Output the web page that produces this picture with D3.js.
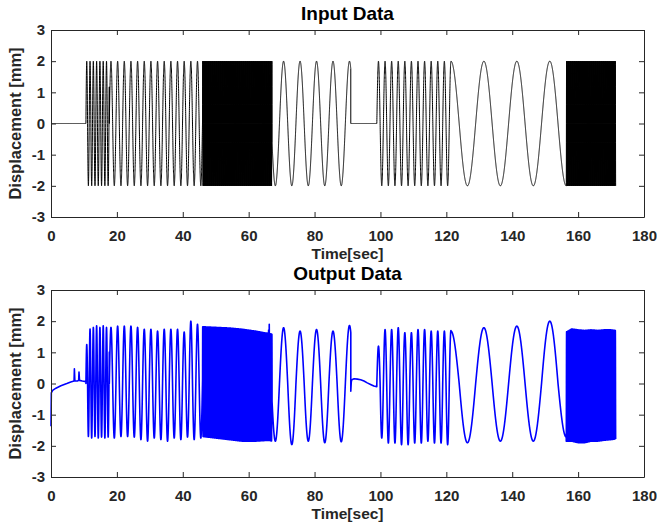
<!DOCTYPE html>
<html>
<head>
<meta charset="utf-8">
<script src="https://cdn.jsdelivr.net/npm/d3@7"></script>
<style>
  body { margin: 0; background: #fff; }
  svg { display: block; }
  text { font-family: "Liberation Sans", Arial, Helvetica, sans-serif; font-weight: bold; }
</style>
</head>
<body>
<svg id="chart" width="657" height="529"></svg>
<script>
// ---- axis ticks ----
const timeTicks = [0, 20, 40, 60, 80, 100, 120, 140, 160, 180];
const dispTicks = [-3, -2, -1, 0, 1, 2, 3];

// ---- drive signal: piecewise sine segments [s], amplitude [mm], frequency [Hz] ----
const segStart = [0,    10.6, 17.7,  46.0, 67.1, 91.0, 98.9,  121.4, 156.4];
const segEnd   = [10.6, 17.7, 46.0,  67.1, 91.0, 98.9, 121.4, 156.4, 171.4];
const segFreq  = [0,    1.0,  0.495, 5,    0.2,  0,    0.5,   0.1,   5];
const segAmp   = [0,    2,    2,     2,    2,    0,    2,     2,     2];
const segPhase = [0,    0,    0,     0,    0.55, 0,    0,     0.25,  0.75]; // start phase, cycles

// ---- measured response ----
// rest intervals (segments 0 and 5)
const restAT = [0, 0.1, 0.5, 1.5, 3, 4.8, 6, 7.0, 7.1, 7.25, 8, 8.4, 8.5, 8.65, 9.5, 10.6];
const restAV = [-1.37, -0.3, -0.22, -0.15, -0.07, 0, 0.05, 0.08, 0.47, 0.08, 0.08, 0.1, 0.37, 0.1, 0.08, 0.06];
const restBT = [91.0, 91.15, 91.3, 92, 93, 94, 95, 96, 97, 98, 98.9];
const restBV = [-0.25, 0.05, 0.12, 0.15, 0.14, 0.12, 0.08, 0.02, -0.03, -0.08, -0.1];

// successive peak / trough values of the oscillating response
const ext1Hz  = [1.25, -1.7, 1.75, -1.75, 1.8, -1.7, 1.85, -1.75, 1.8, -1.72, 1.85, -1.75, 1.8, -1.72];
const ext05A  = [1.8, -1.75, 1.84, -1.7, 1.84, -1.7, 1.84, -1.72, 1.8, -1.8, 1.74, -1.85, 1.74, -1.75,
                 1.68, -1.8, 1.74, -1.85, 1.74, -1.75, 1.74, -1.8, 1.65, -1.72, 2.0, -1.8, 1.9, -1.75];
const ext02   = [-1.85, 1.79, -1.96, 1.68, -1.85, 1.73, -1.9, 1.68, -1.87, 1.86];
const ext05B  = [1.2, -1.75, 1.73, -1.91, 1.73, -1.91, 1.79, -1.96, 1.63, -1.96, 1.63, -1.91,
                 1.73, -1.91, 1.73, -1.85, 1.68, -1.91, 1.68, -1.91, 1.68, -1.96, 1.7];
const ext01   = [1.68, -1.9, 1.79, -1.85, 1.84, -1.85, 2.0, -1.72];

// envelopes of the fast bursts (segments 3 and 8)
const bandAT   = [46.0, 50, 54, 58, 62, 65, 66.0, 66.2, 66.4, 67.1];
const bandATop = [1.82, 1.8, 1.78, 1.74, 1.68, 1.62, 1.62, 2.0, 1.6, 1.58];
const bandABot = [-1.7, -1.75, -1.8, -1.85, -1.85, -1.83, -1.83, -1.83, -1.83, -1.85];
const bandBT   = [156.4, 158, 160, 162, 164, 166, 168, 170, 171.4];
const bandBTop = [1.65, 1.75, 1.72, 1.7, 1.72, 1.7, 1.72, 1.72, 1.7];
const bandBBot = [-1.85, -1.85, -1.9, -1.9, -1.85, -1.85, -1.82, -1.8, -1.78];

const outRest = { 0: [restAT, restAV], 5: [restBT, restBV] };
const outExt  = { 1: ext1Hz, 2: ext05A, 4: ext02, 6: ext05B, 7: ext01 };
const outBand = { 3: [bandAT, bandATop, bandABot], 8: [bandBT, bandBTop, bandBBot] };

const dt = 0.01;

function buildInput() {
  const pts = [];
  for (let s = 0; s < segStart.length; s++) {
    const t0 = segStart[s], n = Math.round((segEnd[s] - t0) / dt);
    for (let i = 0; i <= n; i++) {
      const t = t0 + i * dt;
      const ph = segPhase[s] + segFreq[s] * (t - t0);
      pts.push([t, segAmp[s] * Math.sin(2 * Math.PI * ph)]);
    }
  }
  return pts;
}

function buildOutput() {
  const pts = [];
  for (let s = 0; s < segStart.length; s++) {
    const t0 = segStart[s], n = Math.round((segEnd[s] - t0) / dt);
    if (outRest[s]) {
      const [T, V] = outRest[s];
      T.forEach((t, i) => pts.push([t, V[i]]));
      continue;
    }
    let amp;
    if (outExt[s]) {
      const ext = outExt[s];
      const h0 = Math.round((segPhase[s] - 0.25) * 2);
      amp = (ph) => {
        let k = Math.round((ph - 0.25) * 2) - h0;
        k = Math.max(0, Math.min(ext.length - 1, k));
        return Math.abs(ext[k]);
      };
    }
    let top, bot;
    if (outBand[s]) {
      const [T, Top, Bot] = outBand[s];
      top = d3.scaleLinear().domain(T).range(Top).clamp(true);
      bot = d3.scaleLinear().domain(T).range(Bot).clamp(true);
    }
    for (let i = 0; i <= n; i++) {
      const t = t0 + i * dt;
      const ph = segPhase[s] + segFreq[s] * (t - t0);
      const sv = Math.sin(2 * Math.PI * ph);
      let v;
      if (outBand[s]) v = sv >= 0 ? sv * top(t) : -sv * bot(t);
      else v = sv * amp(ph);
      pts.push([t, v]);
    }
  }
  return pts;
}

const svg = d3.select("#chart");
const x = d3.scaleLinear().domain([0, 180]).range([51, 644]);
const plain = d => String(d);   // ASCII hyphen for negatives

const panels = [
  { title: "Input Data",  top: 30,  bottom: 217, data: buildInput(),  color: "#000000", width: 1 },
  { title: "Output Data", top: 290, bottom: 477, data: buildOutput(), color: "#0000ff", width: 1.6 }
];

panels.forEach(p => {
  const y = d3.scaleLinear().domain([-3, 3]).range([p.bottom, p.top]);
  const g = svg.append("g");

  g.append("path")
    .datum(p.data)
    .attr("fill", "none")
    .attr("stroke", p.color)
    .attr("stroke-width", p.width)
    .attr("stroke-linejoin", "round")
    .attr("d", d3.line().x(d => x(d[0])).y(d => y(d[1])));

  const styleAxis = sel => {
    sel.selectAll(".domain").attr("stroke", "#262626").attr("stroke-width", 1);
    sel.selectAll(".tick line").attr("stroke", "#262626").attr("stroke-width", 1);
    sel.selectAll(".tick text").attr("fill", "#262626").style("font-size", "15px");
  };

  g.append("g").attr("transform", `translate(0,${p.bottom})`)
    .call(d3.axisBottom(x).tickValues(timeTicks).tickFormat(plain)
      .tickSizeInner(-5).tickSizeOuter(0).tickPadding(13.5))
    .call(styleAxis);
  g.append("g").attr("transform", `translate(0,${p.top})`)
    .call(d3.axisTop(x).tickValues(timeTicks).tickFormat("")
      .tickSizeInner(-5).tickSizeOuter(0))
    .call(styleAxis);
  g.append("g").attr("transform", `translate(${x.range()[0]},0)`)
    .call(d3.axisLeft(y).tickValues(dispTicks).tickFormat(plain)
      .tickSizeInner(-5).tickSizeOuter(0).tickPadding(6))
    .call(styleAxis);
  g.append("g").attr("transform", `translate(${x.range()[1]},0)`)
    .call(d3.axisRight(y).tickValues(dispTicks).tickFormat("")
      .tickSizeInner(-5).tickSizeOuter(0))
    .call(styleAxis);

  const cx = (x.range()[0] + x.range()[1]) / 2;
  g.append("text").attr("x", cx).attr("y", p.top - 10.5)
    .attr("text-anchor", "middle").style("font-size", "19px").attr("fill", "#000")
    .text(p.title);
  g.append("text").attr("x", cx).attr("y", p.bottom + 41.5)
    .attr("text-anchor", "middle").style("font-size", "15.5px").attr("fill", "#262626")
    .text("Time[sec]");
  g.append("text")
    .attr("transform", `translate(21,${(p.top + p.bottom) / 2}) rotate(-90)`)
    .attr("text-anchor", "middle").style("font-size", "16.5px").attr("fill", "#262626")
    .text("Displacement [mm]");
});
</script>
</body>
</html>
